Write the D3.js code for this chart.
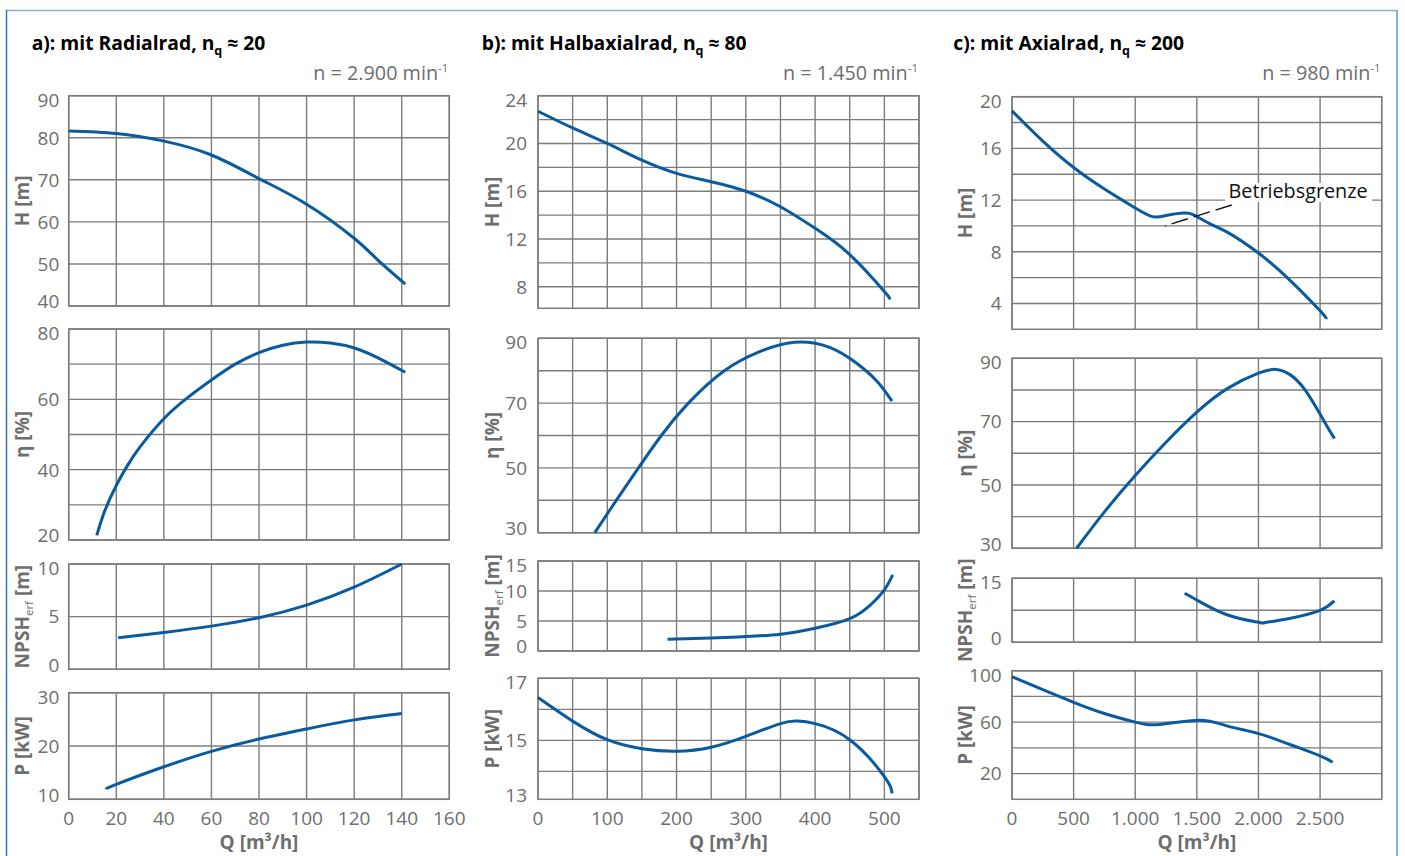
<!DOCTYPE html>
<html><head><meta charset="utf-8">
<script src="https://cdn.jsdelivr.net/npm/d3@7"></script>
<style>body{margin:0;background:#fff}svg{display:block}text{font-family:'Open Sans',sans-serif}</style>
</head><body><svg id="c" width="1405" height="856"></svg>
<script>
// ---------- DATA ----------
// Panel a: Radialrad, n = 2.900 1/min
const qA_H   = [0,20,40,60,80,100,120,130,141.5];
const hA     = [81.6,81.0,79.2,75.9,70.3,64.2,56.1,50.9,45.2];
const qA_eta = [11.8,15,20,25,30,40,50,60,70,80,90,100,110,120,130,141.5];
const etaA   = [21.3,28,35.5,41.5,46.5,54.5,60.5,65.5,70,73.3,75.4,76.3,76,74.6,71.8,67.7];
const qA_np  = [20.8,40,60,80,100,120,140];
const npshA  = [3.0,3.5,4.1,4.9,6.1,7.8,10];
const qA_P   = [15.7,20,40,60,80,100,120,140];
const pA     = [11.9,12.8,16.1,19.0,21.3,23.2,24.9,26.1];
// Panel b: Halbaxialrad, n = 1.450 1/min
const qB_H   = [0,50,100,150,200,250,300,350,400,450,500,506];
const hB     = [22.7,21.3,20.0,18.6,17.5,16.8,16.0,14.7,12.9,10.7,7.6,7.1];
const qB_eta = [82,113,145,178,217,269,320,370,420,460,490,511];
const etaB   = [30,40,50,60,70,80,85.9,88.8,87.3,82.3,76.6,70.6];
const qB_np  = [187,250,300,350,400,450,480,500,512];
const npshB  = [1.95,2.17,2.4,2.8,3.8,5.4,7.7,10.2,12.7];
const qB_P   = [0,50,100,150,200,250,300,350,375,400,450,500,511];
const pB     = [16.38,15.62,15.02,14.73,14.65,14.78,15.13,15.54,15.62,15.54,15.02,13.83,13.29];
// Panel c: Axialrad, n = 980 1/min
const qC_H   = [0,250,500,750,1000,1150,1270,1390,1470,1600,1750,2000,2250,2500,2549];
const hC     = [18.9,16.56,14.52,12.86,11.39,10.7,10.85,11.0,10.88,10.2,9.5,7.9,5.85,3.43,2.79];
const qC_eta = [524,750,1000,1250,1500,1750,2000,2144,2250,2378,2535,2616];
const etaC   = [30,41.5,53,63.5,73,80.5,85.3,86.5,85,80,70,64.7];
const qC_np  = [1401,1500,1750,2000,2050,2250,2500,2616];
const npshC  = [11.5,9.9,6.4,4.7,4.6,5.6,7.5,9.7];
const qC_P   = [0,250,500,750,1000,1200,1520,1750,2000,2250,2500,2602];
const pC     = [95.4,85.2,75.4,66.7,60,58.2,61.5,56.9,51.1,42.8,33.8,28.8];

// tick labels / grids
const xTicksA = [0,20,40,60,80,100,120,140,160];
const xTicksB = [0,100,200,300,400,500];
const xTicksC = [0,500,1000,1500,2000,2500];
const xGridA = [0,20,40,60,80,100,120,140,160];
const xGridB = [0,50,100,150,200,250,300,350,400,450,500,550];
const xGridC = [0,500,1000,1500,2000,2500,3000];

const yTicksA_H = [90,80,70,60,50,40],  yGridA_H = [40,50,60,70,80,90];
const yTicksA_eta = [80,60,40,20],       yGridA_eta = [20,30,40,50,60,70,80];
const yTicksA_np = [10,5,0],             yGridA_np = [0,5,10];
const yTicksA_P = [30,20,10],            yGridA_P = [10,20,30];
const yTicksB_H = [24,20,16,12,8],       yGridB_H = [8,10,12,14,16,18,20,22,24];
const yTicksB_eta = [90,70,50,30],       yGridB_eta = [30,40,50,60,70,80,90];
const yTicksB_np = [15,10,5,0],          yGridB_np = [0,5,10,15];
const yTicksB_P = [17,15,13],            yGridB_P = [14,15,16,17];
const yTicksC_H = [20,16,12,8,4],        yGridC_H = [4,6,8,10,12,14,16,18,20];
const yTicksC_eta = [90,70,50,30],       yGridC_eta = [30,40,50,60,70,80,90];
const yTicksC_np = [15,0],               yGridC_np = [0,7.5,15];
const yTicksC_P = [100,60,20],           yGridC_P = [20,40,60,80,100];

const titles = [["a): mit Radialrad, n","q"," ≈ 20"],["b): mit Halbaxialrad, n","q"," ≈ 80"],["c): mit Axialrad, n","q"," ≈ 200"]];
const speeds = ["n = 2.900 min","n = 1.450 min","n = 980 min"];

// ---------- LAYOUT ----------
const BLUE = "#0a5a9f", GRID = "#7c7c7c", LBL = "#6e6e6e";
const de = d3.formatLocale({decimal:",",thousands:".",grouping:[3],currency:["","€"]});
const fmt = de.format(",d");

const panels = [
  {x0:68.7,x1:449.3,xd:[0,160],xGrid:xGridA,xTicks:xTicksA,titleX:31.7,tickR:59.3,axX:29.3,title:titles[0],speed:speeds[0],
   rows:[
    {y0:95.7,y1:306,yd:[40,90],grid:yGridA_H,ticks:yTicksA_H,q:qA_H,v:hA,lab:"H"},
    {y0:329,y1:540,yd:[20,80],grid:yGridA_eta,ticks:yTicksA_eta,q:qA_eta,v:etaA,lab:"eta"},
    {y0:564,y1:669.3,yd:[0,10],grid:yGridA_np,ticks:yTicksA_np,q:qA_np,v:npshA,lab:"npsh"},
    {y0:692.7,y1:799.3,yd:[10,30],grid:yGridA_P,ticks:yTicksA_P,q:qA_P,v:pA,lab:"P"}]},
  {x0:538,x1:919,xd:[0,550],xGrid:xGridB,xTicks:xTicksB,titleX:481.7,tickR:527,axX:499.3,title:titles[1],speed:speeds[1],
   rows:[
    {y0:95.7,y1:308.3,yd:[6.2,24],grid:yGridB_H,ticks:yTicksB_H,q:qB_H,v:hB,lab:"H"},
    {y0:338.3,y1:532.7,yd:[30,90],grid:yGridB_eta,ticks:yTicksB_eta,q:qB_eta,v:etaB,lab:"eta"},
    {y0:561,y1:651,yd:[0,15],grid:yGridB_np,ticks:yTicksB_np,q:qB_np,v:npshB,lab:"npsh"},
    {y0:678.3,y1:799.3,yd:[13.1,17],grid:yGridB_P,ticks:yTicksB_P,q:qB_P,v:pB,lab:"P"}]},
  {x0:1012,x1:1381.7,xd:[0,3000],xGrid:xGridC,xTicks:xTicksC,titleX:953.3,tickR:1001.7,axX:972.3,title:titles[2],speed:speeds[2],
   rows:[
    {y0:96.7,y1:329.3,yd:[2,20],grid:yGridC_H,ticks:yTicksC_H,q:qC_H,v:hC,lab:"H"},
    {y0:358.3,y1:548.3,yd:[30,90],grid:yGridC_eta,ticks:yTicksC_eta,q:qC_eta,v:etaC,lab:"eta"},
    {y0:578.3,y1:642.3,yd:[0,15],grid:yGridC_np,ticks:yTicksC_np,q:qC_np,v:npshC,lab:"npsh"},
    {y0:670.7,y1:799.3,yd:[0,100],grid:yGridC_P,ticks:yTicksC_P,q:qC_P,v:pC,lab:"P"}]}
];

const svg = d3.select("#c");
svg.append("rect").attr("width",1405).attr("height",856).attr("fill","#fff");
// frame
svg.append("line").attr("x1",6).attr("x2",1397).attr("y1",10.5).attr("y2",10.5).attr("stroke","#86b0dc").attr("stroke-width",1.5);
svg.append("line").attr("x1",6.5).attr("x2",6.5).attr("y1",10).attr("y2",856).attr("stroke","#2f76c6").attr("stroke-width",1.5);
svg.append("line").attr("x1",1397).attr("x2",1397).attr("y1",10).attr("y2",856).attr("stroke","#5f97d2").attr("stroke-width",1.5);

panels.forEach((p,pi)=>{
  const g = svg.append("g");
  const x = d3.scaleLinear().domain(p.xd).range([p.x0,p.x1]);
  // title
  const t = g.append("text").attr("x",p.titleX).attr("y",50).attr("font-size",19.3).attr("font-weight",700).attr("fill","#000");
  t.append("tspan").text(p.title[0]);
  t.append("tspan").text(p.title[1]).attr("font-size",12.5).attr("dy",5);
  t.append("tspan").text(p.title[2]).attr("dy",-5);
  // speed
  const s = g.append("text").attr("x",p.x1-1).attr("y",80).attr("text-anchor","end").attr("font-size",19.8).attr("fill",LBL);
  s.append("tspan").text(p.speed);
  s.append("tspan").text("-1").attr("font-size",11.5).attr("dy",-8);

  p.rows.forEach((r,ri)=>{
    const y = d3.scaleLinear().domain(r.yd).range([r.y1,r.y0]);
    const gg = g.append("g");
    // grid
    gg.selectAll(".vg").data(p.xGrid).join("line")
      .attr("x1",d=>x(d)).attr("x2",d=>x(d)).attr("y1",r.y0).attr("y2",r.y1)
      .attr("stroke",GRID).attr("stroke-width",1.4);
    gg.selectAll(".hg").data(r.grid).join("line")
      .attr("x1",p.x0).attr("x2",p.x1).attr("y1",d=>y(d)).attr("y2",d=>y(d))
      .attr("stroke",GRID).attr("stroke-width",1.4);
    gg.append("rect").attr("x",p.x0).attr("y",r.y0).attr("width",p.x1-p.x0).attr("height",r.y1-r.y0)
      .attr("fill","none").attr("stroke",GRID).attr("stroke-width",1.5);
    // y tick labels
    gg.selectAll(".yt").data(r.ticks).join("text")
      .attr("x",p.tickR).attr("y",d=>Math.max(r.y0+4,Math.min(r.y1-4.5,y(d))))
      .attr("dy","0.36em").attr("text-anchor","end").attr("font-size",19).attr("fill",LBL)
      .text(d=>d);
    // axis title
    const cy = (r.y0+r.y1)/2;
    const at = gg.append("text").attr("transform",`translate(${p.axX},${cy}) rotate(-90)`)
      .attr("text-anchor","middle").attr("font-size",19).attr("font-weight",700).attr("fill",LBL);
    if(r.lab==="H") at.text("H [m]");
    else if(r.lab==="eta") at.text("η [%]");
    else if(r.lab==="P") at.text("P [kW]");
    else { at.append("tspan").text("NPSH"); at.append("tspan").text("erf").attr("font-size",11.5).attr("font-weight",400).attr("dy",4); at.append("tspan").text(" [m]").attr("dy",-4); }
    // curve
    const pts = r.q.map((q,i)=>[q,r.v[i]]);
    gg.append("path").datum(pts)
      .attr("d",d3.line().x(d=>x(d[0])).y(d=>y(d[1])).curve(d3.curveNatural))
      .attr("fill","none").attr("stroke",BLUE).attr("stroke-width",3);
  });
  // x tick labels
  g.selectAll(".xt").data(p.xTicks).join("text")
    .attr("x",d=>x(d)).attr("y",825).attr("text-anchor","middle").attr("font-size",19).attr("fill",LBL)
    .text(d=>fmt(d));
  g.append("text").attr("x",(p.x0+p.x1)/2).attr("y",848.5).attr("text-anchor","middle")
    .attr("font-size",19).attr("font-weight",700).attr("fill",LBL).text("Q [m³/h]");
});

// Betriebsgrenze annotation (panel c, H)
{
  const p = panels[2], r = p.rows[0];
  const x = d3.scaleLinear().domain(p.xd).range([p.x0,p.x1]);
  const y = d3.scaleLinear().domain(r.yd).range([r.y1,r.y0]);
  const ann = svg.append("g");
  ann.append("rect").attr("x",1225).attr("y",183).attr("width",147).attr("height",19).attr("fill","#fff");
  ann.append("text").attr("x",1228.5).attr("y",198.3).attr("font-size",19.8).attr("fill","#111").text("Betriebsgrenze");
  ann.append("line").attr("x1",1231.7).attr("y1",205).attr("x2",x(1240)).attr("y2",y(10.0))
    .attr("stroke","#111").attr("stroke-width",1.4).attr("stroke-dasharray","17 6");
}
</script></body></html>
